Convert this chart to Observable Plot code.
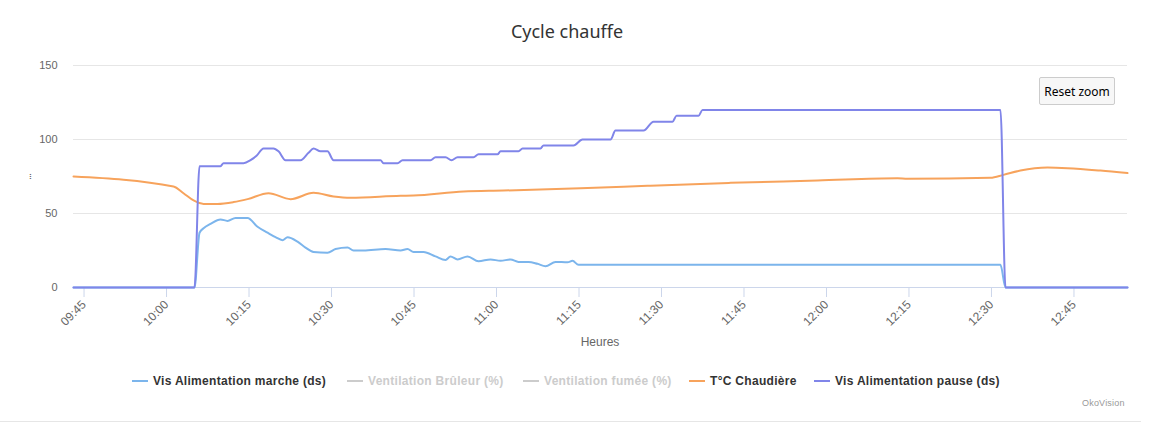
<!DOCTYPE html>
<html>
<head>
<meta charset="utf-8">
<script src="https://cdn.jsdelivr.net/npm/d3@7"></script>
<script src="https://cdn.jsdelivr.net/npm/@observablehq/plot@0.6"></script>
<style>
  html, body { margin: 0; padding: 0; background: #fff; }
  #wrap { position: relative; width: 1166px; height: 428px; overflow: hidden; font-family: "Liberation Sans", Arial, sans-serif; }
  #title { position: absolute; left: 0; width: 1134px; top: 19px; text-align: center; font-family: "Noto Sans", "Liberation Sans", sans-serif; font-size: 18px; color: #333; }
  #chart { position: absolute; left: 0; top: 50px; }
  #reset { position: absolute; left: 1039px; top: 77px; width: 76px; height: 28px; box-sizing: border-box; border: 1px solid #cccccc; border-radius: 2px; background: #f7f7f7; font-size: 12px; color: #000; text-align: center; line-height: 27px; font-family: "Noto Sans", "Liberation Sans", sans-serif; }
  #ytitle { position: absolute; left: 21px; top: 168px; font-size: 11px; color: #666; transform: rotate(-90deg); transform-origin: 6px 6px; letter-spacing: -1px; }
  #xtitle { position: absolute; left: 0; width: 1200px; top: 335px; text-align: center; font-size: 12px; color: #666; }
  .leg { position: absolute; top: 373px; font-size: 12px; font-weight: bold; color: #333; white-space: nowrap; line-height: 16px; letter-spacing: 0.3px; }
  .leg .sym { display: inline-block; position: absolute; top: 7px; width: 16px; height: 2px; }
  .leg.off { color: #cccccc; }
  #credits { position: absolute; left: 1082px; top: 398px; font-size: 9px; color: #999; letter-spacing: 0.2px; }
  #bottomline { position: absolute; left: 0; top: 421px; width: 1141px; height: 1px; background: #e6e6e6; }
</style>
</head>
<body>
<div id="wrap">
  <div id="title"></div>
  <div id="chart"></div>
  <div id="reset">Reset zoom</div>
  <div id="ytitle">...</div>
  <div id="xtitle"></div>
  <div id="legend"></div>
  <div id="credits">OkoVision</div>
  <div id="bottomline"></div>
</div>
<script>
// ---- Data ----
const titleText = "Cycle chauffe";
const xAxisTitle = "Heures";
const xDomain = ["09:43:05", "12:54:44"];
const xTickLabels = ["09:45","10:00","10:15","10:30","10:45","11:00","11:15","11:30","11:45","12:00","12:15","12:30","12:45"];
const yTicks = [0, 50, 100, 150];

const seriesNames = ["Vis Alimentation marche (ds)", "Ventilation Brûleur (%)", "Ventilation fumée (%)", "T°C Chaudière", "Vis Alimentation pause (ds)"];
const seriesColors = ["#7cb5ec", "#434348", "#90ed7d", "#f7a35c", "#8085e9"];
const seriesVisible = [true, false, false, true, true];

// Vis Alimentation marche (ds)
const marcheTimes = ["09:43:05","10:05:05","10:06:00","10:06:44","10:08:00","10:09:49","10:11:05","10:12:33","10:14:44","10:16:33","10:18:22","10:19:49","10:21:05","10:22:00","10:23:49","10:25:16","10:26:44","10:29:16","10:30:44","10:32:55","10:34:00","10:35:49","10:39:49","10:42:33","10:43:49","10:44:55","10:46:44","10:48:55","10:50:44","10:51:38","10:52:55","10:54:44","10:56:44","10:58:55","11:00:44","11:02:33","11:04:00","11:05:49","11:07:27","11:08:55","11:10:44","11:12:55","11:13:49","11:14:55","12:31:38","12:32:33","12:54:44"];
const marcheValues = [0,0,37,40,43,46,45,47,47,41,37,34,32,34,31,27,24,23.5,26,27,25,25,26,25,26,24,24,21,18.6,21,19,21,17.8,19,18,19,17.3,17.3,16,14.4,17.3,17,18,15.3,15.3,0,0];

// T°C Chaudière
const chaudiereTimes = ["09:43:05","10:01:16","10:03:05","10:04:55","10:06:44","10:09:16","10:12:11","10:14:44","10:18:33","10:22:33","10:26:44","10:30:22","10:33:27","10:42:33","10:44:55","10:54:00","11:01:16","11:15:16","11:27:27","11:37:05","11:42:33","11:58:22","12:12:55","12:14:44","12:29:49","12:32:11","12:35:16","12:40:11","12:43:49","12:49:49","12:54:44"];
const chaudiereValues = [75,68.2,63.7,58.8,56.5,56.5,57.7,59.7,63.7,59.7,64,61.5,60.6,62,62.2,64.9,65.5,67,68.7,70,70.7,72.3,73.9,73.4,74.1,76.1,79,81,80.6,79,77.3];

// Vis Alimentation pause (ds)
const pauseTimes = ["09:43:05","10:05:05","10:06:00","10:09:49","10:10:22","10:14:00","10:15:16","10:16:22","10:17:38","10:19:27","10:20:22","10:21:38","10:24:22","10:25:49","10:26:44","10:28:00","10:29:16","10:30:22","10:38:55","10:39:27","10:42:00","10:42:55","10:48:00","10:48:55","10:50:44","10:51:49","10:52:55","10:55:49","10:56:44","11:00:11","11:00:44","11:04:00","11:04:44","11:08:00","11:08:33","11:14:00","11:15:38","11:20:44","11:21:38","11:26:44","11:28:33","11:32:00","11:32:44","11:36:44","11:37:27","12:31:38","12:32:33","12:54:44"];
const pauseValues = [0,0,82,82,84,84,86,89,94,94,92,86,86,91,94,92,92,86,86,84,84,86,86,88,88,86,88,88,90,90,92,92,94,94,96,96,100,100,106,106,112,112,116,116,120,120,0,0];

// ---- Build ----
const parse = d3.timeParse("%H:%M:%S");
const p = s => parse(s.length === 5 ? s + ":00" : s);
const toRows = (times, values) => times.map((t, i) => ({time: p(t), value: values[i]}));
const marche = toRows(marcheTimes, marcheValues);
const chaudiere = toRows(chaudiereTimes, chaudiereValues);
const pause = toRows(pauseTimes, pauseValues);

document.getElementById("title").textContent = titleText;
document.getElementById("xtitle").textContent = xAxisTitle;

const chart = Plot.plot({
  width: 1166,
  height: 300,
  marginLeft: 73,
  marginRight: 39,
  marginTop: 15,
  marginBottom: 63,
  style: {fontFamily: "'Liberation Sans', Arial, sans-serif", fontSize: "11px", color: "#666", background: "transparent", overflow: "visible"},
  x: {type: "time", domain: xDomain.map(p)},
  y: {domain: [0, 150]},
  marks: [
    Plot.gridY(yTicks, {stroke: "#e6e6e6", strokeOpacity: 1}),
    Plot.axisY(yTicks, {tickSize: 0, tickPadding: 16, label: null, fill: "#666", fontSize: 11}),
    Plot.axisX(xTickLabels.map(p), {tickFormat: d3.timeFormat("%H:%M"), tickRotate: -45, tickSize: 10, tickPadding: 5, stroke: "#ccd6eb", strokeOpacity: 1, fill: "#666", label: null, fontSize: 12}),
    Plot.ruleY([0], {stroke: "#ccd6eb"}),
    Plot.line(marche, {x: "time", y: "value", stroke: seriesColors[0], strokeWidth: 2, strokeLinejoin: "round", curve: "monotone-x"}),
    Plot.line(chaudiere, {x: "time", y: "value", stroke: seriesColors[3], strokeWidth: 2, strokeLinejoin: "round", curve: "monotone-x"}),
    Plot.line(pause, {x: "time", y: "value", stroke: seriesColors[4], strokeWidth: 2, strokeLinejoin: "round", curve: "monotone-x"})
  ]
});
document.getElementById("chart").appendChild(chart);

// Legend
const legendLeft = [132, 347, 523, 689, 814];
const legend = document.getElementById("legend");
seriesNames.forEach((name, i) => {
  const d = document.createElement("div");
  d.className = "leg" + (seriesVisible[i] ? "" : " off");
  d.style.left = legendLeft[i] + "px";
  const s = document.createElement("span");
  s.className = "sym";
  s.style.left = "0px";
  s.style.background = seriesVisible[i] ? seriesColors[i] : "#cccccc";
  const t = document.createElement("span");
  t.style.marginLeft = "21px";
  t.textContent = name;
  d.appendChild(s); d.appendChild(t);
  legend.appendChild(d);
});
</script>
</body>
</html>
